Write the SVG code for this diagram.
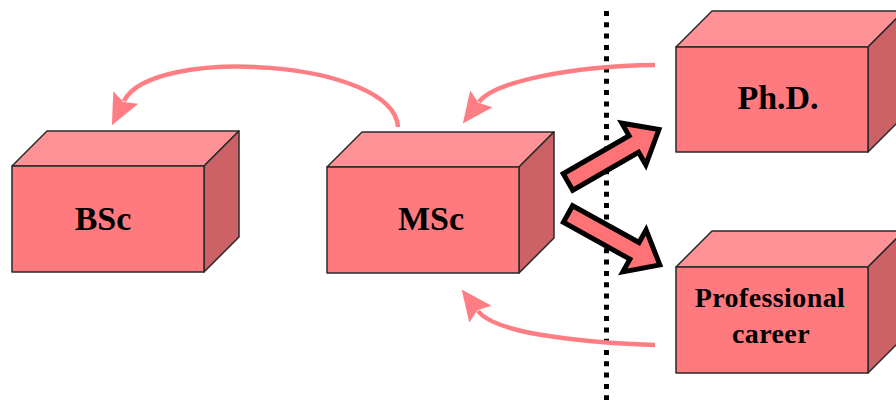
<svg xmlns="http://www.w3.org/2000/svg" width="896" height="400" viewBox="0 0 896 400">
<style>
.front{fill:#FF7A7F;stroke:#2a2a2a;stroke-width:1.5;stroke-linejoin:round}
.top{fill:#FF9296;stroke:#2a2a2a;stroke-width:1.5;stroke-linejoin:round}
.side{fill:#CC6266;stroke:#2a2a2a;stroke-width:1.5;stroke-linejoin:round}
.lbl{font-family:"Liberation Serif","Times New Roman",serif;font-weight:bold;fill:#000;text-anchor:middle}
.curve{fill:none;stroke:#FF7E84;stroke-width:4.5}
.block{fill:#FF7377;stroke:#000;stroke-width:5;stroke-linejoin:miter}
</style>
<defs>
<marker id="ah" markerUnits="userSpaceOnUse" markerWidth="31" markerHeight="29" refX="4" refY="14" orient="auto" viewBox="0 0 31 28">
<polygon points="0,0 31,14 0,28 5,14" fill="#FF7E84"/>
</marker>
</defs>
<rect width="896" height="400" fill="#fff"/>
<g id="connectors">
<line x1="606.5" y1="11" x2="606.5" y2="400" stroke="#000" stroke-width="5" stroke-dasharray="5 6.3"/>
<path class="curve" d="M398,127 C394,60 152,45 124,101" marker-end="url(#ah)"/>
<path class="curve" d="M655,65 C570,66 494,82 479,102" marker-end="url(#ah)"/>
<path class="curve" d="M655,345 C570,342 494,332 478,311" marker-end="url(#ah)"/>
<polygon class="block" transform="translate(568,182) rotate(-30)" points="0,-9.5 76,-9.5 76,-24 105,0 76,24 76,9.5 0,9.5"/>
<polygon class="block" transform="translate(568,214) rotate(29)" points="0,-9.5 76,-9.5 76,-24 105,0 76,24 76,9.5 0,9.5"/>
</g>
<g id="bsc">
<polygon class="top" points="12,166 47,131 239,131 204,166"/>
<polygon class="side" points="204,166 239,131 239,237 204,272"/>
<rect class="front" x="12" y="166" width="192" height="106"/>
<text class="lbl" x="103" y="230" font-size="34">BSc</text>
</g>
<g id="msc">
<polygon class="top" points="327,167 362,132 554,132 519,167"/>
<polygon class="side" points="519,167 554,132 554,238 519,273"/>
<rect class="front" x="327" y="167" width="192" height="106"/>
<text class="lbl" x="431" y="230" font-size="34">MSc</text>
</g>
<g id="phd">
<polygon class="top" points="676,47 712,11 904,11 868,47"/>
<polygon class="side" points="868,47 904,11 904,116 868,152"/>
<rect class="front" x="676" y="47" width="192" height="105"/>
<text class="lbl" x="778" y="109" font-size="34">Ph.D.</text>
</g>
<g id="career">
<polygon class="top" points="676,267 712,231 904,231 868,267"/>
<polygon class="side" points="868,267 904,231 904,337 868,373"/>
<rect class="front" x="676" y="267" width="192" height="106"/>
<text class="lbl" x="770" y="307" font-size="28" letter-spacing="0.4">Professional</text>
<text class="lbl" x="771" y="343" font-size="28" letter-spacing="0.4">career</text>
</g>
</svg>
